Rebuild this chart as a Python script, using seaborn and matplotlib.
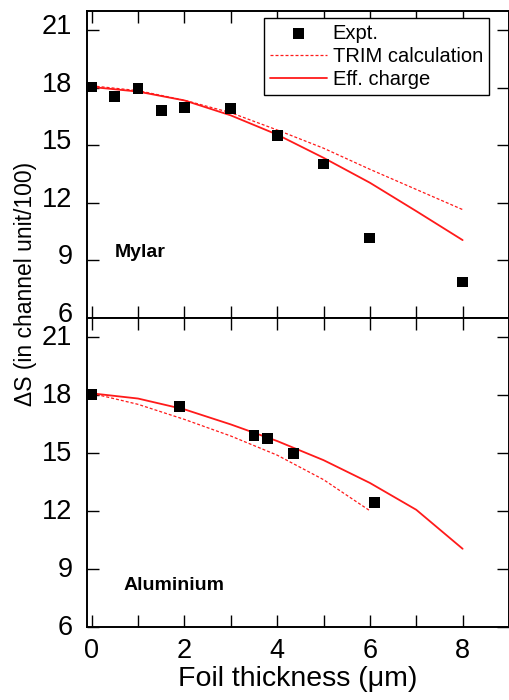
import matplotlib
matplotlib.use("Agg")
import matplotlib.pyplot as plt
import matplotlib.transforms as mtransforms
import seaborn as sns
import pandas as pd
from matplotlib.ticker import MultipleLocator

# ---- data ----
mylar_expt_x = [0, 0.5, 1, 1.5, 2, 3, 4, 5, 6, 8]
mylar_expt_y = [18.04, 17.55, 17.98, 16.8, 16.98, 16.91, 15.52, 14.02, 10.17, 7.88]
mylar_trim_x = [0, 1, 2, 3, 4, 5, 6, 7, 8]
mylar_trim_y = [18.1, 17.85, 17.35, 16.7, 15.8, 14.85, 13.75, 12.7, 11.65]
mylar_eff_x = [0, 1, 2, 3, 4, 5, 6, 7, 8]
mylar_eff_y = [18.04, 17.8, 17.34, 16.56, 15.56, 14.35, 13.05, 11.57, 10.06]

alu_expt_x = [0, 1.9, 3.5, 3.8, 4.35, 6.1]
alu_expt_y = [18.05, 17.41, 15.92, 15.75, 14.99, 12.46]
alu_trim_x = [0, 1, 2, 3, 4, 5, 6]
alu_trim_y = [18.1, 17.53, 16.75, 15.89, 14.9, 13.63, 12.02]
alu_eff_x = [0, 1, 2, 3, 4, 5, 6, 7, 8]
alu_eff_y = [18.1, 17.83, 17.27, 16.49, 15.63, 14.64, 13.46, 12.07, 10.05]

y_ticks = [6, 9, 12, 15, 18, 21]
x_ticks = [0, 2, 4, 6, 8]
labels = ["Expt.", "TRIM calculation", "Eff. charge"]
panel_names = ["Mylar", "Aluminium"]

sns.set_theme(style="ticks")
plt.rcParams["font.family"] = ["Liberation Sans", "DejaVu Sans"]
for key in ["text.color", "axes.labelcolor", "xtick.color", "ytick.color", "axes.edgecolor"]:
    plt.rcParams[key] = "black"

fig = plt.figure(figsize=(5.1, 7), dpi=100)
W, H = 510, 700
def ax_rect(l, t, r, b):
    return [l / W, 1 - b / H, (r - l) / W, (b - t) / H]

ax1 = fig.add_axes(ax_rect(87, 11, 509, 318))
ax2 = fig.add_axes(ax_rect(87, 318, 509, 627))

red = "#ff1a1a"
datasets = [
    (ax1, mylar_expt_x, mylar_expt_y, mylar_trim_x, mylar_trim_y, mylar_eff_x, mylar_eff_y),
    (ax2, alu_expt_x, alu_expt_y, alu_trim_x, alu_trim_y, alu_eff_x, alu_eff_y),
]
for ax, ex, ey, tx, ty, fx, fy in datasets:
    sns.lineplot(x=tx, y=ty, ax=ax, color=red, lw=0.9, linestyle=(0, (2.4, 1.6)),
                 label=labels[1], sort=False)
    sns.lineplot(x=fx, y=fy, ax=ax, color=red, lw=1.3, label=labels[2], sort=False)
    sns.scatterplot(x=ex, y=ey, ax=ax, marker="s", s=60, color="black",
                    edgecolor="none", label=labels[0], clip_on=False, zorder=5)
    ax.set_xlim(-0.1, 9)
    ax.set_ylim(6, 22)
    ax.set_yticks(y_ticks)
    ax.xaxis.set_major_locator(MultipleLocator(2))
    ax.xaxis.set_minor_locator(MultipleLocator(1))
    ax.tick_params(axis="both", which="both", direction="in", top=True, right=True,
                   length=8.6, width=1.0, color="black", labelcolor="black",
                   labelsize=19.5, pad=10.5)
    ax.tick_params(axis="x", which="both", pad=8)
    for sp in ax.spines.values():
        sp.set_linewidth(1.4)
        sp.set_color("black")
    ax.set_xlabel("")
    ax.set_ylabel("")
    if ax.get_legend() is not None:
        ax.get_legend().remove()

ax1.tick_params(axis="x", labelbottom=False)

# upper panel tick labels sit slightly above their ticks in the reference
shift_up = mtransforms.ScaledTranslation(0, 6 / 100, fig.dpi_scale_trans)
for lab in ax1.get_yticklabels():
    lab.set_transform(lab.get_transform() + shift_up)
shift_small = mtransforms.ScaledTranslation(0, 2 / 100, fig.dpi_scale_trans)
for lab in ax2.get_yticklabels():
    lab.set_transform(lab.get_transform() + shift_small)

h, l = ax1.get_legend_handles_labels()
order = [l.index(lab) for lab in labels]
leg = ax1.legend([h[i] for i in order], [l[i] for i in order], loc="upper right",
                 bbox_to_anchor=(0.9526, 0.977), borderaxespad=0, fontsize=14.5,
                 frameon=True, fancybox=False, edgecolor="black", framealpha=1,
                 handlelength=2.8, handletextpad=0.3, labelspacing=0.2, borderpad=0.3,
                 labelcolor="black")
leg.get_frame().set_linewidth(1.0)

ax1.text(0.49, 9.42, panel_names[0], fontsize=14, fontweight="bold", ha="left",
         va="center", color="black")
ax2.text(0.69, 8.15, panel_names[1], fontsize=14, fontweight="bold", ha="left",
         va="center", color="black")

ax2.set_xlabel("Foil thickness (μm)", fontsize=20.5, labelpad=1, color="black")
fig.text(26 / W, 1 - 284 / H, "ΔS (in channel unit/100)", rotation=90,
         fontsize=16.5, ha="center", va="center", color="black")

fig.savefig("out.png", dpi=100)
